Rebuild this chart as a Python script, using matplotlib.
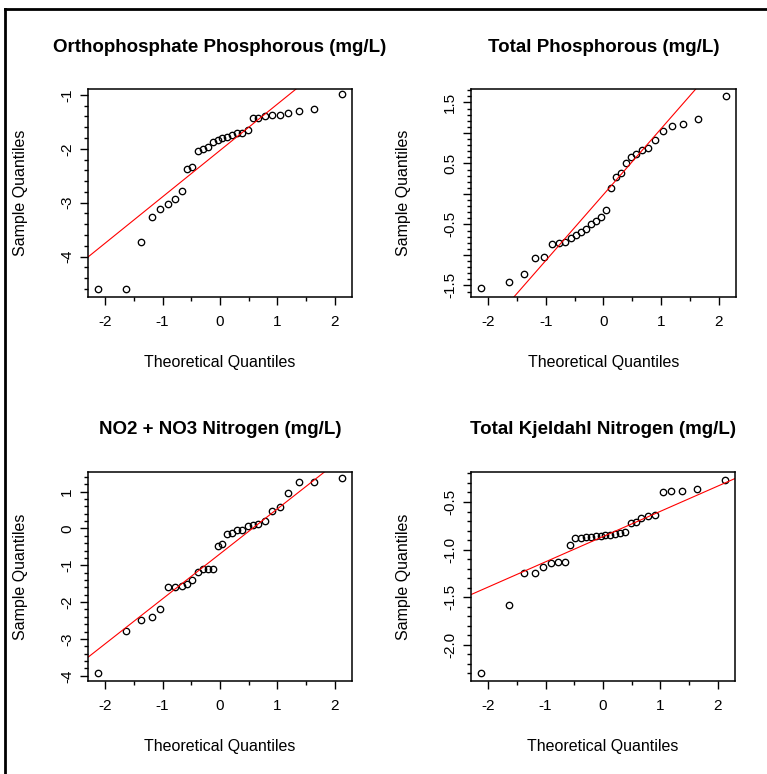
import numpy as np
import matplotlib
matplotlib.use('Agg')
import matplotlib.pyplot as plt
from matplotlib.lines import Line2D
from matplotlib.ticker import MultipleLocator, FixedLocator, FixedFormatter, FormatStrFormatter

plt.rcParams['font.family'] = ['Liberation Sans', 'DejaVu Sans']
plt.rcParams['axes.unicode_minus'] = False

# theoretical normal quantiles (x positions of the 30 points)
theoretical = [-2.13, -1.64, -1.38, -1.19, -1.04, -0.90, -0.78, -0.67, -0.57, -0.48,
               -0.39, -0.30, -0.21, -0.13, -0.04, 0.04, 0.13, 0.21, 0.30, 0.39,
               0.48, 0.57, 0.67, 0.78, 0.90, 1.04, 1.19, 1.38, 1.64, 2.13]

ortho_p = [-4.60, -4.60, -3.73, -3.26, -3.11, -3.03, -2.93, -2.78, -2.38, -2.34,
           -2.04, -2.01, -1.96, -1.88, -1.83, -1.80, -1.78, -1.74, -1.71, -1.70,
           -1.66, -1.43, -1.42, -1.40, -1.38, -1.37, -1.34, -1.30, -1.26, -0.99]

total_p = [-1.55, -1.45, -1.32, -1.05, -1.04, -0.82, -0.80, -0.79, -0.72, -0.68,
           -0.63, -0.58, -0.50, -0.45, -0.38, -0.27, 0.10, 0.27, 0.35, 0.51,
           0.60, 0.66, 0.72, 0.76, 0.88, 1.03, 1.11, 1.14, 1.23, 1.61]

no2_no3 = [-3.92, -2.78, -2.49, -2.40, -2.20, -1.60, -1.58, -1.57, -1.52, -1.40,
           -1.18, -1.10, -1.09, -1.09, -0.48, -0.42, -0.14, -0.12, -0.05, -0.04,
           0.07, 0.09, 0.12, 0.20, 0.46, 0.59, 0.95, 1.27, 1.27, 1.36]

tkn = [-2.30, -1.58, -1.25, -1.25, -1.18, -1.14, -1.13, -1.13, -0.95, -0.88,
       -0.875, -0.87, -0.865, -0.855, -0.852, -0.85, -0.845, -0.835, -0.83, -0.82,
       -0.72, -0.71, -0.665, -0.65, -0.635, -0.40, -0.385, -0.385, -0.365, -0.265]

titles = ['Orthophosphate Phosphorous (mg/L)', 'Total Phosphorous (mg/L)',
          'NO2 + NO3 Nitrogen (mg/L)', 'Total Kjeldahl Nitrogen (mg/L)']
series = [ortho_p, total_p, no2_no3, tkn]
# reference line (intercept, slope)
qq_lines = [(-2.03, 0.86), (-0.01, 1.08), (-0.69, 1.22), (-0.863, 0.265)]

W, H = 767, 774
fig = plt.figure(figsize=(W / 100, H / 100), dpi=100)

# panel boxes in pixels: left, top, width, height
boxes = [(88, 89, 264, 208), (471, 89, 265, 208), (88, 472, 264, 209), (471, 472, 264, 209)]
ylims = [(-4.75, -0.89), (-1.69, 1.72), (-4.14, 1.53), (-2.38, -0.185)]

for k in range(4):
    l, t, w, h = boxes[k]
    ax = fig.add_axes([l / W, 1 - (t + h) / H, w / W, h / H])
    ax.plot(theoretical, series[k], 'o', ms=4.6, mfc='none', mec='black', mew=0.95)
    b, m = qq_lines[k]
    ax.axline((0, b), slope=m, color='red', lw=0.8)
    ax.set_xlim(-2.30, 2.30)
    ax.set_ylim(*ylims[k])

    ax.xaxis.set_major_locator(FixedLocator([-2, -1, 0, 1, 2]))
    ax.xaxis.set_major_formatter(FixedFormatter(['-2', '-1', '0', '1', '2']))
    ax.xaxis.set_minor_locator(FixedLocator([-1.5, -0.5, 0.5, 1.5]))

    if k == 0:
        ax.yaxis.set_major_locator(FixedLocator([-4, -3, -2, -1]))
        ax.yaxis.set_minor_locator(MultipleLocator(0.2))
        ax.yaxis.set_major_formatter(FormatStrFormatter('%d'))
    elif k == 1:
        ax.yaxis.set_major_locator(FixedLocator([-1.5, -1.0, -0.5, 0, 0.5, 1.0, 1.5]))
        ax.yaxis.set_major_formatter(FixedFormatter(['-1.5', '', '-0.5', '', '0.5', '', '1.5']))
        ax.yaxis.set_minor_locator(MultipleLocator(0.1))
    elif k == 2:
        ax.yaxis.set_major_locator(FixedLocator([-4, -3, -2, -1, 0, 1]))
        ax.yaxis.set_minor_locator(MultipleLocator(0.2))
        ax.yaxis.set_major_formatter(FormatStrFormatter('%d'))
    else:
        ax.yaxis.set_major_locator(FixedLocator([-2.0, -1.5, -1.0, -0.5]))
        ax.yaxis.set_minor_locator(MultipleLocator(0.1))
        ax.yaxis.set_major_formatter(FormatStrFormatter('%.1f'))

    ax.tick_params(which='major', length=6, width=1, labelsize=11, color='black')
    ax.tick_params(which='minor', length=3, width=1, color='black')
    ax.tick_params(axis='x', pad=7)
    ax.tick_params(axis='y', pad=4)
    for lab in ax.get_yticklabels():
        lab.set_rotation(90)
        lab.set_va('center')
    for s in ax.spines.values():
        s.set_linewidth(1.1)

    ax.text(0.5, 1 + 42 / h, titles[k], transform=ax.transAxes, ha='center', va='center',
            fontsize=13.5, fontweight='bold')
    ax.text(0.5, -66 / h, 'Theoretical Quantiles', transform=ax.transAxes, ha='center',
            va='center', fontsize=11.5)
    ax.text(-67 / w, 0.5, 'Sample Quantiles', transform=ax.transAxes, ha='center',
            va='center', rotation=90, fontsize=11.5)

# outer frame (left and top edges)
fig.add_artist(Line2D([5 / W, 5 / W], [0, 1 - 9 / H], color='black', lw=2, transform=fig.transFigure))
fig.add_artist(Line2D([5 / W, 1], [1 - 9 / H, 1 - 9 / H], color='black', lw=2, transform=fig.transFigure))

fig.savefig('out.png', dpi=100)
